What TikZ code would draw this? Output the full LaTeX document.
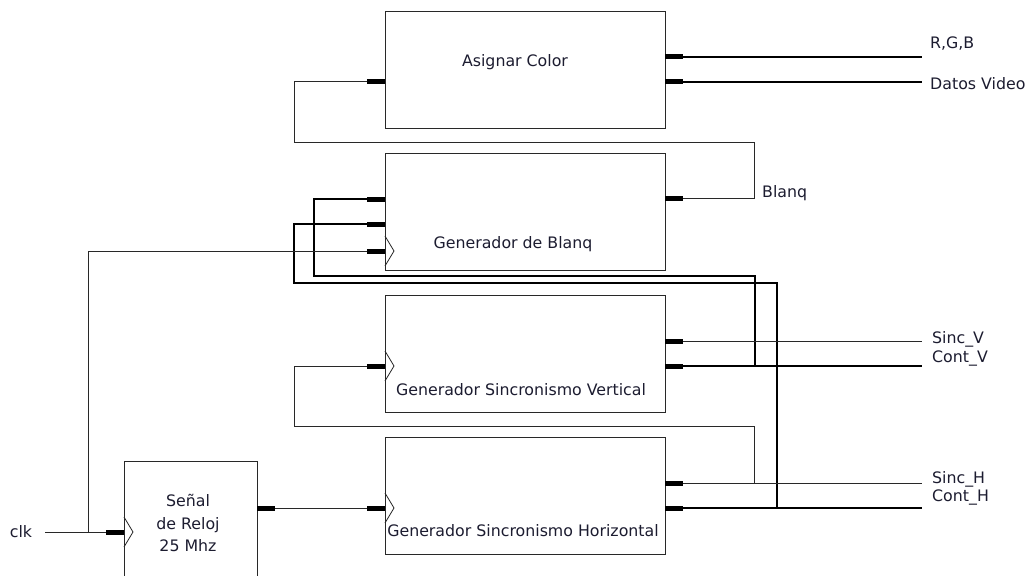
\documentclass[tikz,border=0pt]{standalone}
\usepackage{fontspec}
\setmainfont{DejaVu Sans}
\usetikzlibrary{positioning}
\definecolor{txtcol}{RGB}{28,28,48}
\definecolor{lincol}{RGB}{40,40,40}

\begin{document}
\begin{tikzpicture}[
  x=1pt,y=-1pt,
  font=\fontsize{15.8}{22.5}\selectfont,
  blk/.style={draw=lincol,line width=0.9pt,minimum width=280pt,minimum height=117pt,inner sep=0pt,outer sep=0pt},
  txt/.style={text=txtcol,inner sep=0pt,text height=11.5pt,text depth=0pt},
  wire/.style={draw=lincol,line width=1pt},
  bus/.style={line width=2.6pt},
  stub/.style={line width=5pt},
  clkmark/.style={draw=lincol,line width=0.8pt}]
  \clip (0,0) rectangle (1032,575);
  % bloques
  \node[blk] (color) at (525,69.5) {};
  \node[blk,below=25pt of color] (blanq) {};
  \node[blk,below=25pt of blanq] (vert) {};
  \node[blk,below=25pt of vert] (horiz) {};
  \node[blk,minimum width=133pt,minimum height=125pt,anchor=north] (reloj) at (190.5,461) {};
  % puertos
  \coordinate (cin)   at ([yshift=-12.5pt]color.west);
  \coordinate (crgb)  at ([yshift=12.5pt]color.east);
  \coordinate (cdat)  at ([yshift=-12.5pt]color.east);
  \coordinate (bout)  at ([yshift=13.5pt]blanq.east);
  \coordinate (bin1)  at ([yshift=12.5pt]blanq.west);
  \coordinate (bin2)  at ([yshift=-12.5pt]blanq.west);
  \coordinate (bclk)  at ([yshift=-39.5pt]blanq.west);
  \coordinate (vclk)  at ([yshift=-12.5pt]vert.west);
  \coordinate (vsinc) at ([yshift=12.5pt]vert.east);
  \coordinate (vcont) at ([yshift=-12.5pt]vert.east);
  \coordinate (hclk)  at ([yshift=-12.5pt]horiz.west);
  \coordinate (hsinc) at ([yshift=12.5pt]horiz.east);
  \coordinate (hcont) at ([yshift=-12.5pt]horiz.east);
  \coordinate (rin)   at ([yshift=-71pt]reloj.north west);
  \coordinate (rout)  at (reloj.east |- hclk);
  \coordinate (tap)   at ([xshift=-36pt]rin);
  \coordinate (rgt)   at (922,0);
  % textos
  \node[txt] (tcolor) at (515,61) {Asignar Color};
  \node[txt] (tblanq) at (513,243) {Generador de Blanq};
  \node[txt] (tvert) at (521,390) {Generador Sincronismo Vertical};
  \node[txt] (thoriz) at (523,531) {Generador Sincronismo Horizontal};
  \node[align=center,text=txtcol,inner sep=0pt] (treloj) at (188,523) {Señal\\de Reloj\\25 Mhz};
  \node[txt,inner xsep=13pt] (clk) at (21,532) {clk};
  \node[txt,anchor=west] (lrgb) at (930,43) {R,G,B};
  \node[txt,anchor=west] (ldat) at (930,84) {Datos Video};
  \node[txt,anchor=west] (lblanq) at (762,192) {Blanq};
  \node[txt,anchor=west] (lsv) at (932,338) {Sinc\_V};
  \node[txt,anchor=west] (lcv) at (932,357) {Cont\_V};
  \node[txt,anchor=west] (lsh) at (932,478) {Sinc\_H};
  \node[txt,anchor=west] (lch) at (932,496) {Cont\_H};
  % conexiones
  \draw[wire] (bout) -- ++(89,0) |- (294,142) |- (cin);
  \draw[bus] (bin1) -| (314,276) -| ([xshift=90pt]vcont);
  \draw[bus] (bin2) -| (294,283) -| ([xshift=112pt]hcont);
  \draw[wire] (vclk) -| (294,426) -| ([xshift=89pt]hsinc);
  \draw[wire] (clk.east) -- (rin);
  \draw[wire] (tap) |- (bclk);
  \draw[wire] (rout) -- (hclk);
  \draw[bus] (crgb) -- (crgb -| rgt);
  \draw[bus] (cdat) -- (cdat -| rgt);
  \draw[wire] (vsinc) -- (vsinc -| rgt);
  \draw[bus] (vcont) -- (vcont -| rgt);
  \draw[wire] (hsinc) -- (hsinc -| rgt);
  \draw[bus] (hcont) -- (hcont -| rgt);
  % pines
  \foreach \p in {cin,bin1,bin2,bclk,vclk,hclk,rin}
    \draw[stub] (\p) -- ++(-18,0);
  \foreach \p in {crgb,cdat,bout,vsinc,vcont,hsinc,hcont,rout}
    \draw[stub] (\p) -- ++(18,0);
  \foreach \p in {bclk,vclk,hclk,rin}
    \draw[clkmark] ([yshift=15pt]\p) -- ++(9,15) -- ++(-9,15);
\end{tikzpicture}
\end{document}
